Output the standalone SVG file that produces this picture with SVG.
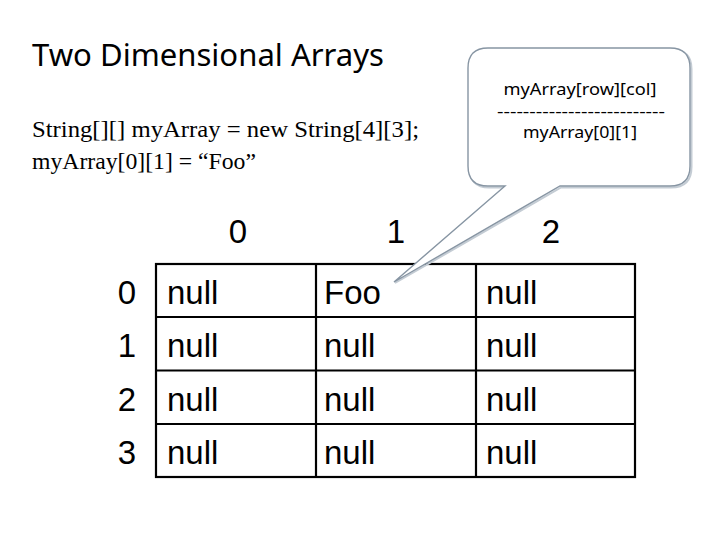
<svg xmlns="http://www.w3.org/2000/svg" width="720" height="540" viewBox="0 0 720 540">
<style>
.title{font-family:"Noto Sans","Open Sans","Liberation Sans",sans-serif;font-size:31px;fill:#000}
.code{font-family:"Liberation Serif","Times New Roman",serif;font-size:24px;fill:#000}
.cell{font-family:"Liberation Sans",Arial,sans-serif;font-size:33px;fill:#000}
.idx{font-family:"Liberation Sans",Arial,sans-serif;font-size:33px;fill:#000;text-anchor:middle}
.call{font-family:"Noto Sans","Open Sans","Liberation Sans",sans-serif;font-size:17px;fill:#000;text-anchor:middle}
.grid{fill:none;stroke:#000;stroke-width:2.2}
.bubble{fill:#fff;stroke:#8795a3;stroke-width:1.4}
.shadow{fill:none;stroke:#c4ccd4;stroke-width:2}
</style>
<rect width="720" height="540" fill="#fff"/>
<g id="title">
<text class="title" x="32" y="66" textLength="352" lengthAdjust="spacingAndGlyphs">Two Dimensional Arrays</text>
</g>
<g id="code">
<text class="code" x="32" y="137" textLength="387" lengthAdjust="spacingAndGlyphs">String[][] myArray = new String[4][3];</text>
<text class="code" x="32" y="169" textLength="224" lengthAdjust="spacingAndGlyphs">myArray[0][1] = “Foo”</text>
</g>
<g id="column-headers">
<text class="idx" x="238" y="243">0</text>
<text class="idx" x="396" y="243">1</text>
<text class="idx" x="551" y="243">2</text>
</g>
<g id="row-headers">
<text class="idx" x="127" y="304">0</text>
<text class="idx" x="127" y="357">1</text>
<text class="idx" x="127" y="411">2</text>
<text class="idx" x="127" y="464">3</text>
</g>
<g id="table">
<rect class="grid" x="156" y="264" width="479" height="213"/>
<line class="grid" x1="316" y1="264" x2="316" y2="477"/>
<line class="grid" x1="476" y1="264" x2="476" y2="477"/>
<line class="grid" x1="156" y1="317" x2="635" y2="317"/>
<line class="grid" x1="156" y1="370.5" x2="635" y2="370.5"/>
<line class="grid" x1="156" y1="424" x2="635" y2="424"/>
<text class="cell" x="167" y="304">null</text>
<text class="cell" x="324" y="304">Foo</text>
<text class="cell" x="486" y="304">null</text>
<text class="cell" x="167" y="357">null</text>
<text class="cell" x="324" y="357">null</text>
<text class="cell" x="486" y="357">null</text>
<text class="cell" x="167" y="411">null</text>
<text class="cell" x="324" y="411">null</text>
<text class="cell" x="486" y="411">null</text>
<text class="cell" x="167" y="464">null</text>
<text class="cell" x="324" y="464">null</text>
<text class="cell" x="486" y="464">null</text>
</g>
<g id="callout">
<path class="shadow" d="M489,49.5 H671 Q691.5,49.5 691.5,69 V167 Q691.5,187.5 671,187.5 H561 L395,283 L506,187.5 H489 Q469.5,187.5 469.5,167 V69 Q469.5,49.5 489,49.5 Z"/>
<path class="bubble" d="M488,48 H670 Q690,48 690,68 V166 Q690,186 670,186 H560 L394,282 L505,186 H488 Q468,186 468,166 V68 Q468,48 488,48 Z"/>
<text class="call" x="580" y="95" textLength="153" lengthAdjust="spacingAndGlyphs">myArray[row][col]</text>
<text class="call" x="581" y="117" textLength="168" lengthAdjust="spacingAndGlyphs">--------------------------</text>
<text class="call" x="580" y="138" textLength="114" lengthAdjust="spacingAndGlyphs">myArray[0][1]</text>
</g>
</svg>
